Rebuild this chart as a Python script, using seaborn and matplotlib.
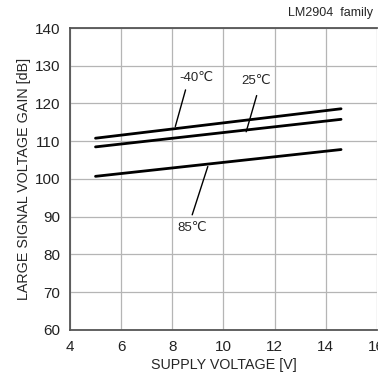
import numpy as np
import pandas as pd
import matplotlib
matplotlib.use('Agg')
import matplotlib.pyplot as plt
import seaborn as sns

# Data
supply_v = [5.0, 14.6]
gain_m40 = [110.8, 118.6]
gain_25 = [108.5, 115.8]
gain_85 = [100.7, 107.8]
temps = ['-40℃', '25℃', '85℃']

x_ticks = [4, 6, 8, 10, 12, 14, 16]
y_ticks = [60, 70, 80, 90, 100, 110, 120, 130, 140]

# label position, leader start, leader end (data coords)
labels = {
    '-40℃': ((8.94, 126.7), (8.52, 123.6), (8.12, 113.9)),
    '25℃': ((11.28, 126.0), (11.30, 122.1), (10.89, 112.5)),
    '85℃': ((8.78, 87.0), (8.78, 90.5), (9.39, 103.3)),
}

sns.set_style('white')
plt.rcParams['font.family'] = ['Liberation Sans', 'DejaVu Sans']

df = pd.DataFrame({
    'v': supply_v * 3,
    'gain': gain_m40 + gain_25 + gain_85,
    'temp': [t for t in temps for _ in supply_v],
})

fig = plt.figure(figsize=(3.78, 3.81), dpi=100)
ax = fig.add_axes([0.185, 0.134, 0.812, 0.7925])

sns.lineplot(data=df, x='v', y='gain', hue='temp',
             palette=['black'] * 3, linewidth=2, legend=False, ax=ax)

for t, (txt_pos, p0, p1) in labels.items():
    ax.plot([p0[0], p1[0]], [p0[1], p1[1]], color='black', linewidth=1)
    ax.text(txt_pos[0], txt_pos[1], t, ha='center', va='center', fontsize=9.5)

ax.set_xlim(4, 16)
ax.set_ylim(60, 140)
ax.set_xticks(x_ticks)
ax.set_yticks(y_ticks)
ax.tick_params(length=0, labelsize=11, pad=7, colors='#222222')
ax.grid(True, color='#b5b5b5', linewidth=0.9)
for side in ['left', 'bottom', 'top']:
    ax.spines[side].set_color('#555555')
    ax.spines[side].set_linewidth(1.3)
ax.spines['right'].set_visible(False)

ax.set_xlabel('SUPPLY VOLTAGE [V]', fontsize=10.3, labelpad=3)
ax.set_ylabel('LARGE SIGNAL VOLTAGE GAIN [dB]', fontsize=10.3, labelpad=3)
fig.text(0.987, 0.965, 'LM2904  family', ha='right', va='center', fontsize=9)

fig.savefig('out.png', dpi=100)
